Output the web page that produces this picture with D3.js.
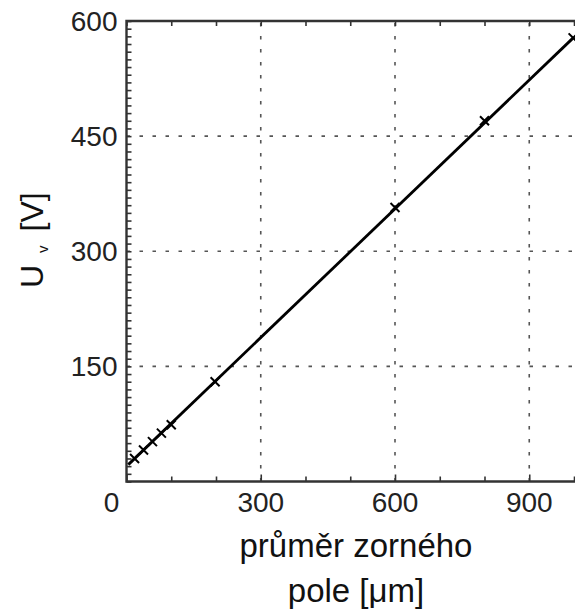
<!DOCTYPE html>
<html>
<head>
<meta charset="utf-8">
<script src="https://cdn.jsdelivr.net/npm/d3@7"></script>
<style>
  html, body { margin: 0; padding: 0; background: #fff; }
  svg { display: block; font-family: "Liberation Sans", Arial, Helvetica, sans-serif; }
</style>
</head>
<body>
<svg id="chart" width="575" height="609"></svg>
<script>
// ---- data ----
const pointX = [18, 38, 58, 78, 100, 198, 600, 800, 998];
const pointY = [30, 41, 52, 63, 74, 130, 357, 470, 578];
const lineX = [4, 1000];
const lineY = [22, 579];
const xTickValues = [0, 300, 600, 900];
const yTickValues = [150, 300, 450, 600];
const xLabelLines = ["průměr zorného", "pole [μm]"];

(function () {
// ---- layout ----
const svg = d3.select("#chart");
const pLeft = 126.5, pRight = 574, pTop = 21, pBottom = 481.5;
const x = d3.scaleLinear().domain([0, 1000]).range([pLeft, pRight]);
const y = d3.scaleLinear().domain([0, 600]).range([pBottom, pTop]);
const axisColor = "#333";
const textColor = "#222";

// grid
const grid = svg.append("g").attr("stroke", "#555").attr("stroke-width", 1.6)
  .attr("stroke-dasharray", "3.5,9.5").attr("fill", "none");
grid.selectAll("line.v").data(xTickValues.filter(d => d > 0)).join("line").attr("class", "v")
  .attr("x1", d => x(d)).attr("x2", d => x(d)).attr("y1", pBottom).attr("y2", pTop);
grid.selectAll("line.h").data(yTickValues.filter(d => d < 600)).join("line").attr("class", "h")
  .attr("y1", d => y(d)).attr("y2", d => y(d)).attr("x1", pLeft).attr("x2", 575);

// axes via d3 axis (ticks only, inward)
const minorX = d3.range(0, 1001, 100);
const minorY = d3.range(0, 601, 10);

const gB = svg.append("g").attr("transform", `translate(0,${pBottom})`)
  .call(d3.axisTop(x).tickValues(minorX).tickSize(5).tickFormat(""));
const gT = svg.append("g").attr("transform", `translate(0,${pTop})`)
  .call(d3.axisBottom(x).tickValues(minorX).tickSize(5).tickFormat(""));
const gL = svg.append("g").attr("transform", `translate(${pLeft},0)`)
  .call(d3.axisRight(y).tickValues(minorY).tickSize(5).tickFormat(""));
[gB, gT, gL].forEach(g => {
  g.select(".domain").remove();
  g.selectAll(".tick line").attr("stroke", axisColor).attr("stroke-width", 1.6);
});
gB.selectAll(".tick line").attr("y2", d => xTickValues.includes(d) ? -7 : -5);

// frame
svg.append("path")
  .attr("d", `M${pRight + 2},${pTop}H${pLeft}V${pBottom}H${pRight + 2}`)
  .attr("fill", "none").attr("stroke", axisColor).attr("stroke-width", 2.4);

// tick labels
svg.append("g").selectAll("text").data(xTickValues).join("text")
  .attr("x", d => d === 0 ? x(d) - 15 : x(d)).attr("y", 512)
  .attr("text-anchor", "middle").attr("font-size", 28).attr("fill", textColor)
  .text(d => d);
svg.append("g").selectAll("text").data(yTickValues).join("text")
  .attr("x", pLeft - 9).attr("y", d => y(d) + 10)
  .attr("text-anchor", "end").attr("font-size", 28).attr("fill", textColor)
  .text(d => d);

// fitted line
const lineData = lineX.map((d, i) => [d, lineY[i]]);
svg.append("path").datum(lineData)
  .attr("d", d3.line().x(d => x(d[0])).y(d => y(d[1])))
  .attr("fill", "none").attr("stroke", "#000").attr("stroke-width", 2.8);

// markers (crosses)
const pts = pointX.map((d, i) => [d, pointY[i]]);
const s = 4.5;
svg.append("g").selectAll("path").data(pts).join("path")
  .attr("d", d => {
    const cx = x(d[0]), cy = y(d[1]);
    return `M${cx - s},${cy - s}L${cx + s},${cy + s}M${cx - s},${cy + s}L${cx + s},${cy - s}`;
  })
  .attr("stroke", "#000").attr("stroke-width", 2).attr("fill", "none");

// x label
svg.append("g").selectAll("text").data(xLabelLines).join("text")
  .attr("x", 356).attr("y", (d, i) => 557 + i * 45)
  .attr("text-anchor", "middle").attr("font-size", 33).attr("fill", "#111")
  .text(d => d);

// y label
const yl = svg.append("text")
  .attr("transform", "translate(43,288) rotate(-90)")
  .attr("font-size", 32).attr("fill", "#111");
yl.append("tspan").text("U");
yl.append("tspan").attr("font-size", 15).attr("dy", 5).attr("dx", 12).text("v");
yl.append("tspan").attr("dy", -5).attr("dx", 14).text("[V]");
})();
</script>
</body>
</html>
